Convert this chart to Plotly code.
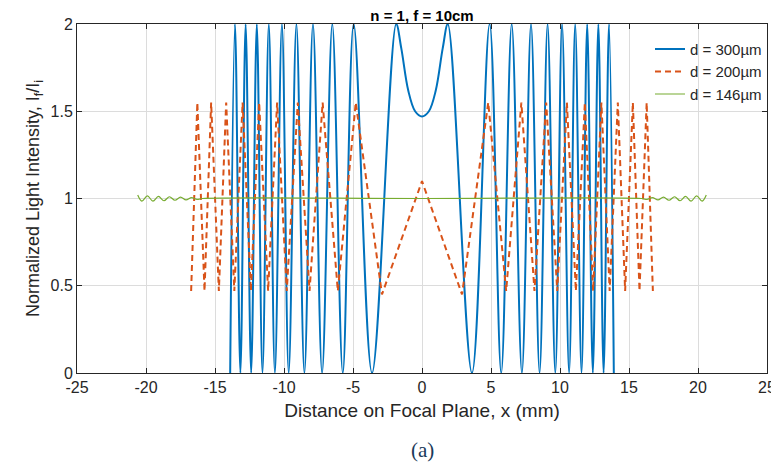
import plotly.graph_objects as go

# ---- data ----
blue_x = [-13.9, -13.55, -13.16, -12.78, -12.38, -11.97, -11.56, -11.1, -10.66, -10.15,
          -9.66, -9.1, -8.52, -7.9, -7.24, -6.5, -5.74, -4.95, -3.62, -1.87, -1.5, -1.0,
          -0.5, 0.0, 0.5, 1.0, 1.5, 1.87, 3.62, 4.9, 5.74, 6.5, 7.24, 7.9, 8.52, 9.1,
          9.66, 10.15, 10.66, 11.1, 11.56, 11.97, 12.38, 12.78, 13.16, 13.55, 13.9]
blue_y = [0, 2, 0, 2, 0, 2, 0, 2, 0, 2,
          0, 2, 0, 2, 0, 2, 0, 2, 0, 2, 1.86, 1.62,
          1.5, 1.47, 1.5, 1.62, 1.86, 2, 0, 2, 0, 2, 0, 2, 0, 2,
          0, 2, 0, 2, 0, 2, 0, 2, 0, 2, 0]

orange_x = [-16.73, -16.28, -15.76, -15.28, -14.72, -14.19, -13.6, -13.0, -12.4, -11.8,
            -11.15, -10.5, -9.8, -9.0, -8.15, -7.2, -6.1, -4.8, -2.9, 0.0,
            2.9, 4.8, 6.1, 7.2, 8.15, 9.0, 9.8, 10.5, 11.15, 11.8,
            12.4, 13.0, 13.6, 14.19, 14.72, 15.28, 15.76, 16.28, 16.73]
orange_y = [0.47, 1.55, 0.47, 1.55, 0.47, 1.55, 0.47, 1.55, 0.47, 1.55,
            0.47, 1.55, 0.47, 1.55, 0.47, 1.55, 0.47, 1.55, 0.45, 1.1,
            0.45, 1.55, 0.47, 1.55, 0.47, 1.55, 0.47, 1.55, 0.47, 1.55,
            0.47, 1.55, 0.47, 1.55, 0.47, 1.55, 0.47, 1.55, 0.47]

green_x = [-20.6, -20.3, -19.9, -19.5, -19.1, -18.7, -18.3, -17.9, -17.5, -17.1, -16.7,
           -16.3, -15.9, 0.0, 15.9, 16.3, 16.7, 17.1, 17.5, 17.9, 18.3, 18.7, 19.1,
           19.5, 19.9, 20.3, 20.6]
green_y = [1.02, 0.985, 1.015, 0.985, 1.012, 0.987, 1.01, 0.99, 1.008, 0.992, 1.005,
           0.995, 1.0, 1.0, 1.0, 0.995, 1.005, 0.992, 1.008, 0.99, 1.01, 0.987, 1.012,
           0.985, 1.015, 0.985, 1.02]

series_names = ["d = 300µm", "d = 200µm", "d = 146µm"]

x_ticks = [-25, -20, -15, -10, -5, 0, 5, 10, 15, 20, 25]
x_tick_labels = ["-25", "-20", "-15", "-10", "-5", "0", "5", "10", "15", "20", "25"]
y_ticks = [0, 0.5, 1, 1.5, 2]
y_tick_labels = ["0", "0.5", "1", "1.5", "2"]

title_text = "n = 1, f = 10cm"
x_title = "Distance on Focal Plane, x (mm)"
y_title = "Normalized Light Intensity, I<sub>f</sub>/I<sub>i</sub>"
caption = "(a)"

FONT = "Liberation Sans, Arial, sans-serif"

fig = go.Figure()
fig.add_trace(go.Scatter(x=blue_x, y=blue_y, mode="lines", name=series_names[0],
                         line=dict(color="#0072BD", width=2, shape="spline")))
fig.add_trace(go.Scatter(x=orange_x, y=orange_y, mode="lines", name=series_names[1],
                         line=dict(color="#D95319", width=2, dash="6px,4px")))
fig.add_trace(go.Scatter(x=green_x, y=green_y, mode="lines", name=series_names[2],
                         line=dict(color="#77AC30", width=1.2, shape="spline")))

axis_common = dict(
    showline=True, linecolor="#262626", linewidth=1, mirror="ticks",
    ticks="inside", ticklen=5, tickcolor="#262626",
    showgrid=True, gridcolor="#DCDCDC", gridwidth=1,
    zeroline=False, ticklabeloverflow="allow", automargin=False,
    tickfont=dict(family=FONT, size=16, color="#262626"),
)

fig.update_xaxes(range=[-25, 25], tickvals=x_ticks, ticktext=x_tick_labels,
                 title=dict(text=x_title, font=dict(family=FONT, size=19, color="#262626"),
                            standoff=8),
                 **axis_common)
fig.update_yaxes(range=[0, 2], tickvals=y_ticks, ticktext=y_tick_labels,
                 title=dict(text=y_title, font=dict(family=FONT, size=18, color="#262626"),
                            standoff=6),
                 **axis_common)

fig.update_layout(
    width=771, height=471,
    margin=dict(l=77, r=4, t=24, b=98, autoexpand=False),
    paper_bgcolor="white", plot_bgcolor="white",
    title=dict(text="<b>" + title_text + "</b>", x=0.5, xref="paper", xanchor="center",
               y=1, yref="paper", yanchor="bottom", pad=dict(b=3),
               font=dict(family=FONT, size=15, color="#000000")),
    legend=dict(x=1, xanchor="right", y=0.975, yanchor="top",
                bgcolor="rgba(255,255,255,0)", borderwidth=0,
                font=dict(family=FONT, size=15, color="#262626"),
                tracegroupgap=0, itemwidth=30),
    showlegend=True,
    annotations=[dict(text=caption, x=0.5, xref="paper", y=-0.22, yref="paper",
                      xanchor="center", yanchor="middle", showarrow=False,
                      font=dict(family="Liberation Serif, serif", size=21, color="#1a3a5a"))],
)

fig.write_html("out.html", config={"displayModeBar": False},
               post_script="document.body.style.margin='0';")
